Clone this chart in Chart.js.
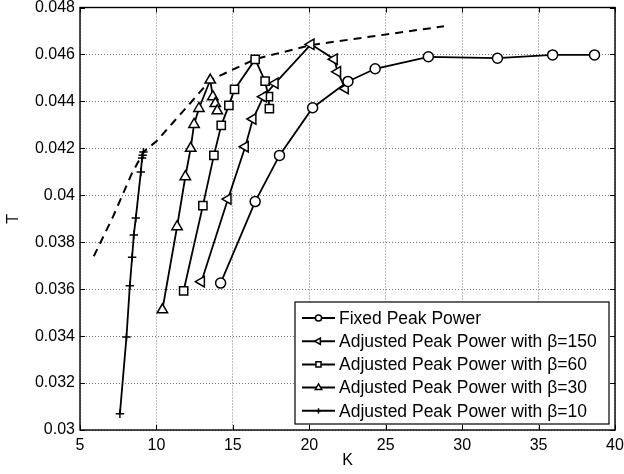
<!DOCTYPE html>
<html><head><meta charset="utf-8">
<style>html,body{margin:0;padding:0;background:#fff;}canvas{display:block;}</style>
<script src="https://cdn.jsdelivr.net/npm/chart.js"></script>
</head><body>
<canvas id="c" width="624" height="474"></canvas>
<script>
const xTicks = [5, 10, 15, 20, 25, 30, 35, 40];
const yTicks = [0.03, 0.032, 0.034, 0.036, 0.038, 0.04, 0.042, 0.044, 0.046, 0.048];
const seriesLabels = [
  'Fixed Peak Power',
  'Adjusted Peak Power with \u03B2=150',
  'Adjusted Peak Power with \u03B2=60',
  'Adjusted Peak Power with \u03B2=30',
  'Adjusted Peak Power with \u03B2=10'
];
const fixedK = [14.2, 16.46, 18.05, 20.22, 22.53, 24.31, 27.79, 32.31, 35.92, 38.66];
const fixedT = [0.03626, 0.03973, 0.0417, 0.04373, 0.04485, 0.04539, 0.0459, 0.04584, 0.04598, 0.04598];
const b150K = [12.94, 14.68, 15.81, 16.31, 17.0, 17.76, 20.11, 21.63, 21.85, 22.35];
const b150T = [0.03632, 0.03984, 0.04207, 0.04325, 0.0442, 0.04477, 0.04643, 0.0458, 0.04526, 0.04455];
const b60K = [11.78, 13.04, 13.76, 14.24, 14.74, 15.11, 16.46, 17.11, 17.33, 17.39];
const b60T = [0.03593, 0.03956, 0.0417, 0.04298, 0.04383, 0.04451, 0.04579, 0.04486, 0.0442, 0.04369];
const b30K = [10.39, 11.35, 11.89, 12.24, 12.46, 12.78, 13.52, 13.69, 13.85, 13.98];
const b30T = [0.03512, 0.03866, 0.04079, 0.042, 0.04302, 0.0437, 0.04491, 0.0442, 0.04391, 0.0436];
const b10K = [7.61, 8.04, 8.26, 8.41, 8.52, 8.65, 8.98, 9.06, 9.1, 9.15];
const b10T = [0.03069, 0.03396, 0.03615, 0.03736, 0.03831, 0.03903, 0.04099, 0.04159, 0.04171, 0.04184];
const envK = [5.9, 7.17, 8.37, 9.17, 10.0, 11.09, 12.18, 13.52, 16.46, 20.11, 28.81];
const envT = [0.0374, 0.0391, 0.0409, 0.04186, 0.0423, 0.0431, 0.0439, 0.0449, 0.0458, 0.0464, 0.0472];

const FONT = '"Liberation Sans", Arial, Helvetica, sans-serif';
const pts = (xs, ys) => xs.map((v, i) => ({x: v, y: ys[i]}));
function series(label, xs, ys, style, radius, rotation) {
  return {
    label, data: pts(xs, ys), borderColor: '#000', borderWidth: 1.8,
    pointStyle: style, pointRadius: radius, pointRotation: rotation || 0,
    pointBorderColor: '#000', pointBackgroundColor: '#fff', pointBorderWidth: 1.5,
    pointHoverRadius: radius, tension: 0, fill: false, legendRadius: radius * 0.62
  };
}
const datasets = [
  series(seriesLabels[0], fixedK, fixedT, 'circle', 5),
  series(seriesLabels[1], b150K, b150T, 'triangle', 6, -90),
  series(seriesLabels[2], b60K, b60T, 'rect', 5.8),
  series(seriesLabels[3], b30K, b30T, 'triangle', 6),
  series(seriesLabels[4], b10K, b10T, 'cross', 4.2),
  {label: '', data: pts(envK, envT), borderColor: '#000', borderWidth: 2,
   borderDash: [8, 6], pointRadius: 0, pointHoverRadius: 0, tension: 0, fill: false, noLegend: true}
];

function drawMarker(ctx, style, r, rot, x, y) {
  ctx.save();
  ctx.translate(x, y);
  ctx.rotate((rot || 0) * Math.PI / 180);
  ctx.beginPath();
  if (style === 'circle') { ctx.arc(0, 0, r, 0, Math.PI * 2); }
  else if (style === 'rect') { const s = r * Math.SQRT1_2; ctx.rect(-s, -s, 2 * s, 2 * s); }
  else if (style === 'triangle') {
    for (let k = 0; k < 3; k++) {
      const a = k * 2 * Math.PI / 3;
      const px = Math.sin(a) * r, py = -Math.cos(a) * r;
      k ? ctx.lineTo(px, py) : ctx.moveTo(px, py);
    }
    ctx.closePath();
  } else if (style === 'cross') {
    ctx.moveTo(-r, 0); ctx.lineTo(r, 0); ctx.moveTo(0, -r); ctx.lineTo(0, r);
  }
  if (style !== 'cross') { ctx.fillStyle = '#fff'; ctx.fill(); }
  ctx.stroke();
  ctx.restore();
}

const frameTicks = {
  id: 'frameTicks',
  afterDatasetsDraw(chart) {
    const {ctx, chartArea: a, scales: {x, y}} = chart;
    const L = 5;
    ctx.save();
    ctx.strokeStyle = '#000';
    ctx.lineWidth = 1;
    ctx.beginPath();
    xTicks.forEach(v => {
      const px = Math.round(x.getPixelForValue(v)) + 0.5;
      ctx.moveTo(px, a.bottom); ctx.lineTo(px, a.bottom - L);
      ctx.moveTo(px, a.top); ctx.lineTo(px, a.top + L);
    });
    yTicks.forEach(v => {
      const py = Math.round(y.getPixelForValue(v)) + 0.5;
      ctx.moveTo(a.left, py); ctx.lineTo(a.left + L, py);
      ctx.moveTo(a.right, py); ctx.lineTo(a.right - L, py);
    });
    ctx.stroke();
    ctx.lineWidth = 1.4;
    ctx.strokeRect(a.left, a.top, a.right - a.left, a.bottom - a.top);
    ctx.restore();
  }
};

const boxLegend = {
  id: 'boxLegend',
  afterDraw(chart) {
    const {ctx, chartArea: a} = chart;
    const w = 314, h = 122;
    const x1 = a.right - 6, y1 = a.bottom - 6;
    const x0 = x1 - w, y0 = y1 - h;
    ctx.save();
    ctx.fillStyle = '#fff';
    ctx.fillRect(x0, y0, w, h);
    ctx.strokeStyle = '#000';
    ctx.lineWidth = 1.2;
    ctx.strokeRect(x0, y0, w, h);
    const items = chart.data.datasets.filter(d => !d.noLegend);
    ctx.font = '17.5px ' + FONT;
    ctx.textBaseline = 'middle';
    ctx.textAlign = 'left';
    items.forEach((d, i) => {
      const cy = y0 + 16 + i * 23.2;
      ctx.strokeStyle = '#000';
      ctx.lineWidth = 2;
      ctx.beginPath();
      ctx.moveTo(x0 + 7, cy); ctx.lineTo(x0 + 40, cy);
      ctx.stroke();
      ctx.lineWidth = 1.5;
      drawMarker(ctx, d.pointStyle, d.legendRadius, d.pointRotation, x0 + 23.5, cy);
      ctx.fillStyle = '#000';
      ctx.fillText(d.label, x0 + 44, cy + 1);
    });
    ctx.restore();
  }
};

const gridCfg = {color: '#777', lineWidth: 1, drawTicks: false};
new Chart(document.getElementById('c'), {
  type: 'line',
  data: {datasets},
  options: {
    responsive: false, animation: false,
    layout: {padding: {top: 7, right: 9, left: 0, bottom: 0}},
    plugins: {legend: {display: false}, tooltip: {enabled: false}},
    scales: {
      x: {
        type: 'linear', min: xTicks[0], max: xTicks[xTicks.length - 1],
        afterBuildTicks: s => { s.ticks = xTicks.map(v => ({value: v})); },
        afterFit: s => { s.height = 44; s.paddingLeft = 0; s.paddingRight = 0; },
        grid: gridCfg, border: {display: false, dash: [1, 2]},
        ticks: {color: '#000', padding: 6, font: {family: FONT, size: 16}, maxRotation: 0, autoSkip: false},
        title: {display: true, text: 'K', color: '#000', font: {family: FONT, size: 16}, padding: {top: 0, bottom: 4}}
      },
      y: {
        type: 'linear', min: yTicks[0], max: yTicks[yTicks.length - 1],
        afterBuildTicks: s => { s.ticks = yTicks.map(v => ({value: v})); },
        afterFit: s => { s.width = 80; s.paddingTop = 0; s.paddingBottom = 0; },
        grid: gridCfg, border: {display: false, dash: [1, 2]},
        ticks: {color: '#000', padding: 5, font: {family: FONT, size: 16}, autoSkip: false,
                callback: v => String(+(+v).toFixed(3))},
        title: {display: true, text: 'T', color: '#000', font: {family: FONT, size: 16}, padding: {top: 4, bottom: 0}}
      }
    }
  },
  plugins: [frameTicks, boxLegend]
});
</script>
</body></html>
